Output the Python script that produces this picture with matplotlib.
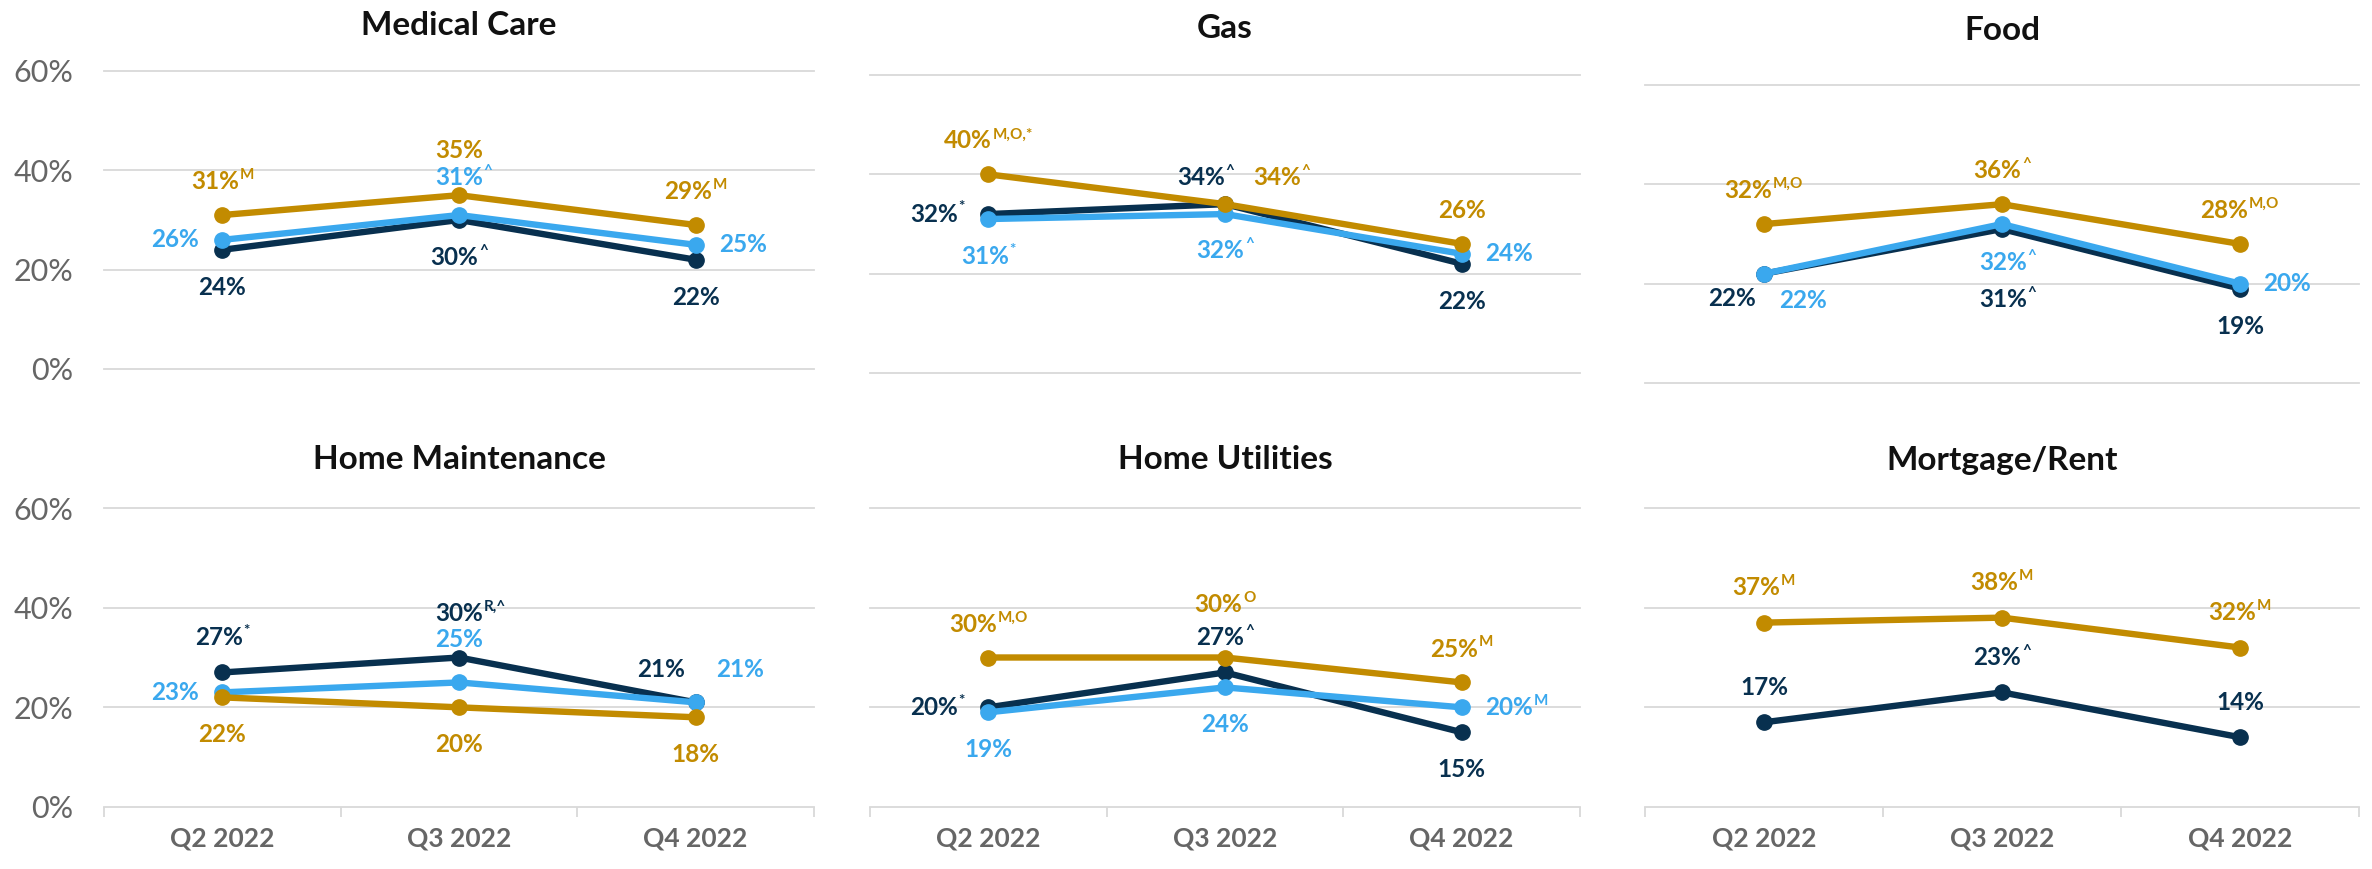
import matplotlib
matplotlib.use('Agg')
from matplotlib import pyplot

# ---- data -------------------------------------------------------------
quarters = ['Q2 2022', 'Q3 2022', 'Q4 2022']
panels = ['Medical Care', 'Gas', 'Food',
          'Home Maintenance', 'Home Utilities', 'Mortgage/Rent']
y_ticks = [0, 20, 40, 60]

navy_values = [[24, 30, 22], [32, 34, 22], [22, 31, 19],
               [27, 30, 21], [20, 27, 15], [17, 23, 14]]
sky_values = [[26, 31, 25], [31, 32, 24], [22, 32, 20],
              [23, 25, 21], [19, 24, 20], None]
gold_values = [[31, 35, 29], [40, 34, 26], [32, 36, 28],
               [22, 20, 18], [30, 30, 25], [37, 38, 32]]

navy_notes = [['', '^', ''], ['*', '^', ''], ['', '^', ''],
              ['*', 'R,^', ''], ['*', '^', ''], ['', '^', '']]
sky_notes = [['', '^', ''], ['*', '^', ''], ['', '^', ''],
             ['', '', ''], ['', '', 'M'], None]
gold_notes = [['M', '', 'M'], ['M,O,*', '^', ''], ['M,O', '^', 'M,O'],
              ['', '', ''], ['M,O', 'O', 'M'], ['M', 'M', 'M']]

# ---- style ------------------------------------------------------------
navy_colour = '#08304f'
sky_colour = '#3aa8ee'
gold_colour = '#c28b00'
grid_colour = '#d9d9d9'
tick_colour = '#666666'
label_size = 17.5
note_size = 11
pyplot.rcParams['font.family'] = ['Lato', 'DejaVu Sans']

W, H = 2372, 869
DPI = 100

# axes boxes in pixels: left, top, right, bottom
col_x = [(104, 814), (870, 1580), (1645, 2359)]
top_y = [(71, 369), (75, 373), (85, 383)]
bottom_y = (508, 807)
title_base = [35, 38, 40, 469, 469, 470]

# label placement (dx, dy in points, alignment)
A = (0, 24, 'c')
B = (0, -27, 'c')
L = (-17, 0, 'r')
R = (17, 0, 'l')
navy_place = [[B, B, B],
              [L, (0, 19, 'rm'), B],
              [(-23, -18, 'c'), (4, -51, 'c'), B],
              [(0, 25, 'c'), (0, 32, 'm'), (-7.5, 24, 'r')],
              [L, (0, 25, 'c'), B],
              [(0, 25, 'c'), (0, 25, 'c'), (0, 25, 'c')]]
sky_place = [[L, (0, 27, 'm'), R],
             [B, (0, -26, 'c'), R],
             [(28, -19, 'c'), (4, -28, 'c'), R],
             [L, (0, 31, 'c'), (15, 24, 'l')],
             [B, B, R],
             None]
gold_place = [[A, (0, 32, 'c'), A],
              [A, (20, 19, 'l'), A],
              [A, A, A],
              [B, B, B],
              [A, (0, 38, 'c'), A],
              [(0, 25, 'c'), (0, 25, 'c'), (0, 25, 'c')]]

fig = pyplot.figure(figsize=(W / DPI, H / DPI), dpi=DPI)
pending = []


def px_axes(left, top, right, bottom):
    return fig.add_axes([left / W, 1 - bottom / H,
                         (right - left) / W, (bottom - top) / H])


def add_label(ax, x, y, value, note, colour, place):
    dx, dy, align = place
    ha = {'c': 'center', 'm': 'center', 'l': 'left',
          'r': 'right', 'rm': 'right'}[align]
    main = ax.annotate(f'{value}%', xy=(x, y), xytext=(dx, dy),
                       textcoords='offset points', ha=ha, va='center',
                       fontsize=label_size, fontweight='bold', color=colour,
                       annotation_clip=False, zorder=5)
    if note:
        sup = ax.annotate(note, xy=(1, 1), xycoords=main, xytext=(0.5, 1.5),
                          textcoords='offset points', ha='left', va='top',
                          fontsize=note_size, fontweight='bold', color=colour,
                          annotation_clip=False, zorder=5)
        if align in ('c', 'r'):
            pending.append((main, sup, 0.5 if align == 'c' else 1.0))


def plot_series(ax, values, notes, places, colour):
    if values is None:
        return
    xs = list(range(len(values)))
    ax.plot(xs, values, color=colour, linewidth=4.6, marker='o',
            markersize=11, solid_capstyle='round', clip_on=False, zorder=3)
    for x, v, n, p in zip(xs, values, notes, places):
        add_label(ax, x, v, v, n, colour, p)


for i, name in enumerate(panels):
    row, col = divmod(i, 3)
    left, right = col_x[col]
    top, bottom = top_y[col] if row == 0 else bottom_y
    ax = px_axes(left, top, right, bottom)

    ax.set_xlim(-0.5, 2.5)
    ax.set_ylim(0, 60)
    for s in ax.spines.values():
        s.set_visible(False)
    ax.set_yticks(y_ticks)
    ax.yaxis.grid(True, color=grid_colour, linewidth=1.3)
    for g in ax.get_ygridlines():
        g.set_clip_on(False)
    ax.set_axisbelow(True)
    ax.tick_params(axis='y', length=0, pad=22)
    if col == 0:
        ax.set_yticklabels([f'{t}%' for t in y_ticks], fontsize=22,
                           fontweight='normal', color=tick_colour)
    else:
        ax.set_yticklabels([])

    ax.set_xticks(range(len(quarters)))
    if row == 1:
        ax.set_xticklabels(quarters, fontsize=19, fontweight='bold',
                           color=tick_colour)
        ax.set_xticks([-0.5, 0.5, 1.5, 2.5], minor=True)
        ax.tick_params(axis='x', which='major', length=0, pad=14)
        ax.tick_params(axis='x', which='minor', length=7, width=1.3,
                       color=grid_colour)
    else:
        ax.set_xticklabels([])
        ax.tick_params(axis='x', length=0)

    plot_series(ax, navy_values[i], navy_notes[i], navy_place[i], navy_colour)
    plot_series(ax, sky_values[i], sky_notes[i], sky_place[i], sky_colour)
    plot_series(ax, gold_values[i], gold_notes[i], gold_place[i], gold_colour)

    fig.text((left + right) / 2 / W, 1 - title_base[i] / H, name,
             ha='center', va='baseline', fontsize=24, fontweight='bold',
             color='#111111')

# centre label groups (value + note) now that sizes are known
fig.canvas.draw()
renderer = fig.canvas.get_renderer()
for main, sup, frac in pending:
    w = sup.get_window_extent(renderer).width + 0.5 * DPI / 72
    x0, y0 = main.get_position()
    main.set_position((x0 - frac * w * 72 / DPI, y0))

fig.savefig('out.png', dpi=DPI)
